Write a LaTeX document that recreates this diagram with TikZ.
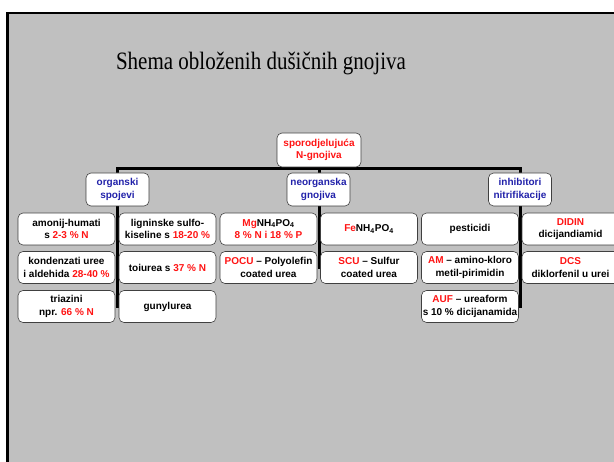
\documentclass[tikz,border=0pt]{standalone}
\usepackage{fontspec}
\setmainfont{Liberation Sans}
\newfontfamily\titlefont{Liberation Serif}
\usepackage{graphicx}
\definecolor{myred}{RGB}{255,20,20}
\definecolor{myblue}{RGB}{34,34,170}
\definecolor{slidegray}{RGB}{192,192,192}
\definecolor{boxline}{RGB}{64,64,64}
\newcommand{\rd}[1]{\textcolor{myred}{#1}}
\pgfdeclarelayer{bglayer}
\pgfdeclarelayer{connlayer}
\pgfsetlayers{bglayer,connlayer,main}
\tikzset{
  anybox/.style={draw=boxline, fill=white, rounded corners=5pt, line width=0.6pt,
    align=center, inner sep=0pt, font=\fontsize{10}{12.3}\selectfont\bfseries},
  leafbox/.style={anybox, minimum width=97pt, minimum height=32pt},
  catbox/.style={anybox, minimum width=63pt, minimum height=33pt, text=myblue},
  topbox/.style={anybox, minimum width=84pt, minimum height=34pt, text=myred},
  conn/.style={line width=3pt, black, line cap=rect}
}
\begin{document}
\begin{tikzpicture}[x=1pt,y=-1pt]
\useasboundingbox (0,0) rectangle (614,462);
\clip (0,0) rectangle (614,462);
\begin{pgfonlayer}{bglayer}
\fill[white] (0,0) rectangle (614,462);
\draw[line width=2.5pt, fill=slidegray] (7.5,13) rectangle (700,600);
\end{pgfonlayer}

\node[anchor=base] (title) at (261,70) {\titlefont\fontsize{25}{30}\selectfont\scalebox{0.84}[1]{Shema obloženih dušičnih gnojiva}};

\node[topbox] (top) at (319,150) {sporodjelujuća\\N-gnojiva};
\node[catbox] (org) at (117.5,189.5) {organski\\spojevi};
\node[catbox] (neo) at (318.5,189.5) {neorganska\\gnojiva};
\node[catbox] (inh) at (520,189.5) {inhibitori\\nitrifikacije};

\node[leafbox] (a1) at (66.5,229) {amonij-humati\\s \rd{2-3 \% N}};
\node[leafbox] (a2) at (66.5,267.5) {kondenzati uree\\i aldehida \rd{28-40 \%}};
\node[leafbox] (a3) at (66.5,306.5) {triazini\\npr. \rd{66 \% N}};
\node[leafbox] (b1) at (167.5,229) {ligninske sulfo-\\kiseline s \rd{18-20 \%}};
\node[leafbox] (b2) at (167.5,267.5) {toiurea s \rd{37 \% N}};
\node[leafbox] (b3) at (167.5,306.5) {gunylurea};
\node[leafbox] (c1) at (268.5,229) {\rd{Mg}NH\textsubscript{4}PO\textsubscript{4}\\\rd{8 \% N i 18 \% P}};
\node[leafbox] (c2) at (268.5,267.5) {\rd{POCU} -- Polyolefin\\coated urea};
\node[leafbox] (d1) at (369,229) {\rd{Fe}NH\textsubscript{4}PO\textsubscript{4}};
\node[leafbox] (d2) at (369,267.5) {\rd{SCU} -- Sulfur\\coated urea};
\node[leafbox] (e1) at (470,229) {pesticidi};
\node[leafbox] (e2) at (470,267.5) {\rd{AM} -- amino-kloro\\metil-pirimidin};
\node[leafbox] (e3) at (470,306.5) {\rd{AUF} -- ureaform\\\makebox[95pt][c]{s 10 \% dicijanamida}};
\node[leafbox] (f1) at (570.5,229) {\rd{DIDIN}\\dicijandiamid};
\node[leafbox] (f2) at (570.5,267.5) {\rd{DCS}\\diklorfenil u urei};

\coordinate (barL) at (117,169);
\coordinate (barM) at (319,169);
\coordinate (barR) at (520,169);
\begin{pgfonlayer}{connlayer}
\draw[conn] (top.south) -- (barM);
\draw[conn] (barL) -- (barR);
\draw[conn] (barL) -- (barL |- a3.center);
\draw[conn] (barM) -- (barM |- c2.center);
\draw[conn] (barR) -- (barR |- e3.center);
\end{pgfonlayer}
\end{tikzpicture}
\end{document}
